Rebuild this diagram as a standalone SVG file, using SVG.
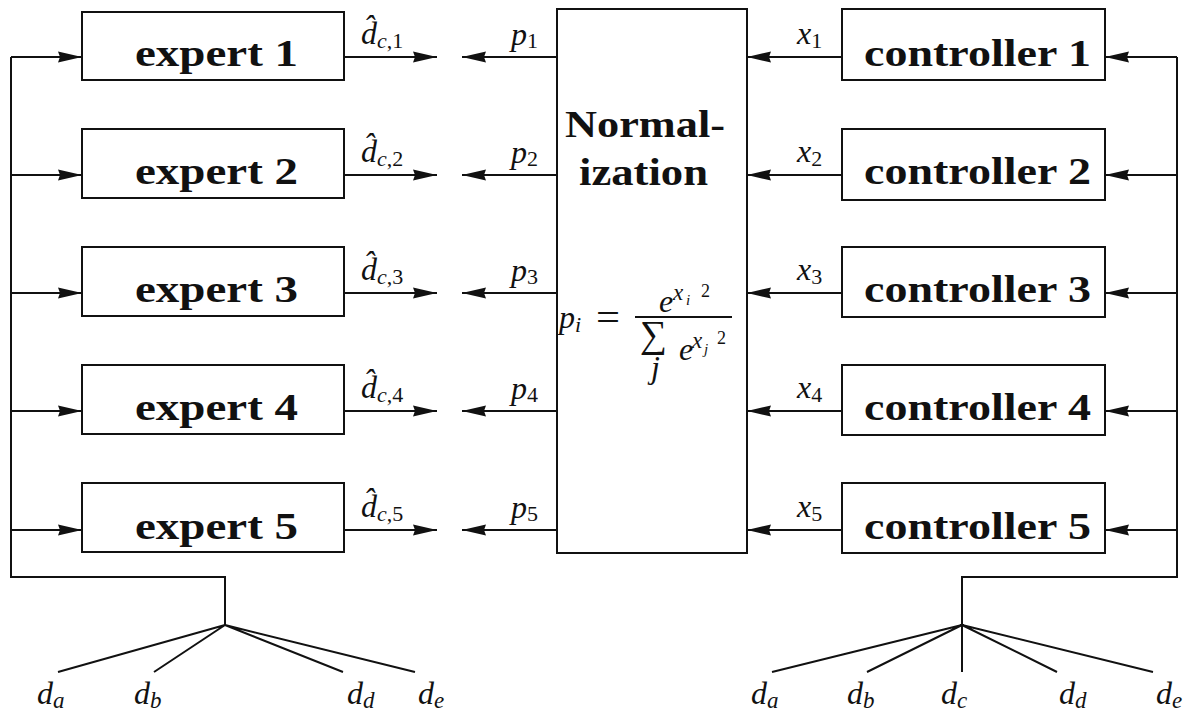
<svg xmlns="http://www.w3.org/2000/svg" width="1186" height="711" viewBox="0 0 1186 711">
  <style>
    .box { fill: #fff; stroke: #111; stroke-width: 2; }
    .wire { fill: none; stroke: #111; stroke-width: 2; }
    .arr { marker-end: url(#ah); }
    .lbl { font-family: "Liberation Serif", serif; font-weight: bold; font-size: 38px; fill: #111; }
    .mi { font-family: "Liberation Serif", serif; font-style: italic; font-size: 32px; fill: #111; }
    .rm { font-family: "Liberation Serif", serif; font-style: normal; fill: #111; }
    .sub { font-size: 22px; }
  </style>
  <defs>
    <marker id="ah" markerUnits="userSpaceOnUse" markerWidth="26" markerHeight="13" refX="24" refY="6" orient="auto">
      <path d="M0,0.5 L24,6 L0,11.5 L2,6 Z" fill="#111"/>
    </marker>
  </defs>
  <rect width="1186" height="711" fill="#fff"/>

  <!-- wiring -->
  <g id="connectors">
    <!-- left distribution bus and fan -->
    <path class="wire" d="M11,57 V577 H225 V625"/>
    <path class="wire" d="M225,625 L58,672 M225,625 L154,672 M225,625 L343,672 M225,625 L415,672"/>
    <!-- right distribution bus and fan -->
    <path class="wire" d="M1177,57 V577 H962 V625"/>
    <path class="wire" d="M962,625 L772,672 M962,625 L867,672 M962,625 V672 M962,625 L1057,672 M962,625 L1153,672"/>

    <!-- row 1 -->
    <path class="wire arr" d="M11,57 H82"/>
    <path class="wire arr" d="M344,57 H437"/>
    <path class="wire arr" d="M557,57 H462"/>
    <path class="wire arr" d="M842,57 H747"/>
    <path class="wire arr" d="M1177,57 H1105"/>
    <!-- row 2 -->
    <path class="wire arr" d="M11,175 H82"/>
    <path class="wire arr" d="M344,175 H437"/>
    <path class="wire arr" d="M557,175 H462"/>
    <path class="wire arr" d="M842,175 H747"/>
    <path class="wire arr" d="M1177,175 H1105"/>
    <!-- row 3 -->
    <path class="wire arr" d="M11,293 H82"/>
    <path class="wire arr" d="M344,293 H437"/>
    <path class="wire arr" d="M557,293 H462"/>
    <path class="wire arr" d="M842,293 H747"/>
    <path class="wire arr" d="M1177,293 H1105"/>
    <!-- row 4 -->
    <path class="wire arr" d="M11,411 H82"/>
    <path class="wire arr" d="M344,411 H437"/>
    <path class="wire arr" d="M557,411 H462"/>
    <path class="wire arr" d="M842,411 H747"/>
    <path class="wire arr" d="M1177,411 H1105"/>
    <!-- row 5 -->
    <path class="wire arr" d="M11,530 H82"/>
    <path class="wire arr" d="M344,530 H437"/>
    <path class="wire arr" d="M557,530 H462"/>
    <path class="wire arr" d="M842,530 H747"/>
    <path class="wire arr" d="M1177,530 H1105"/>
  </g>

  <!-- signal labels -->
  <g id="labels">
    <!-- estimated outputs d-hat -->
    <text class="mi" x="361" y="44" font-size="30">d&#x302;<tspan class="mi sub" dy="4">c</tspan><tspan class="rm sub">,1</tspan></text>
    <text class="mi" x="361" y="162" font-size="30">d&#x302;<tspan class="mi sub" dy="4">c</tspan><tspan class="rm sub">,2</tspan></text>
    <text class="mi" x="361" y="280" font-size="30">d&#x302;<tspan class="mi sub" dy="4">c</tspan><tspan class="rm sub">,3</tspan></text>
    <text class="mi" x="361" y="398" font-size="30">d&#x302;<tspan class="mi sub" dy="4">c</tspan><tspan class="rm sub">,4</tspan></text>
    <text class="mi" x="361" y="517" font-size="30">d&#x302;<tspan class="mi sub" dy="4">c</tspan><tspan class="rm sub">,5</tspan></text>

    <!-- weights -->
    <text class="mi" x="511" y="45">p<tspan class="rm sub" dy="3">1</tspan></text>
    <text class="mi" x="511" y="163">p<tspan class="rm sub" dy="3">2</tspan></text>
    <text class="mi" x="511" y="281">p<tspan class="rm sub" dy="3">3</tspan></text>
    <text class="mi" x="511" y="399">p<tspan class="rm sub" dy="3">4</tspan></text>
    <text class="mi" x="511" y="518">p<tspan class="rm sub" dy="3">5</tspan></text>

    <!-- controller outputs -->
    <text class="mi" x="797" y="44">x<tspan class="rm sub" dy="4">1</tspan></text>
    <text class="mi" x="797" y="162">x<tspan class="rm sub" dy="4">2</tspan></text>
    <text class="mi" x="797" y="280">x<tspan class="rm sub" dy="4">3</tspan></text>
    <text class="mi" x="797" y="398">x<tspan class="rm sub" dy="4">4</tspan></text>
    <text class="mi" x="797" y="517">x<tspan class="rm sub" dy="4">5</tspan></text>

    <!-- input variables, left fan -->
    <text class="mi" x="37" y="704">d<tspan font-size="23" dy="4">a</tspan></text>
    <text class="mi" x="134" y="704">d<tspan font-size="23" dy="4">b</tspan></text>
    <text class="mi" x="347" y="704">d<tspan font-size="23" dy="4">d</tspan></text>
    <text class="mi" x="418" y="704">d<tspan font-size="23" dy="4">e</tspan></text>
    <!-- input variables, right fan -->
    <text class="mi" x="751" y="704">d<tspan font-size="23" dy="4">a</tspan></text>
    <text class="mi" x="847" y="704">d<tspan font-size="23" dy="4">b</tspan></text>
    <text class="mi" x="941" y="704">d<tspan font-size="23" dy="4">c</tspan></text>
    <text class="mi" x="1059" y="704">d<tspan font-size="23" dy="4">d</tspan></text>
    <text class="mi" x="1156" y="704">d<tspan font-size="23" dy="4">e</tspan></text>
  </g>

  <!-- expert networks -->
  <g id="expert1"><rect class="box" x="82" y="12" width="262" height="68"/><text class="lbl" x="135" y="66" textLength="163" lengthAdjust="spacingAndGlyphs">expert 1</text></g>
  <g id="expert2"><rect class="box" x="82" y="129" width="262" height="69"/><text class="lbl" x="135" y="184" textLength="163" lengthAdjust="spacingAndGlyphs">expert 2</text></g>
  <g id="expert3"><rect class="box" x="82" y="247" width="262" height="69"/><text class="lbl" x="135" y="302" textLength="163" lengthAdjust="spacingAndGlyphs">expert 3</text></g>
  <g id="expert4"><rect class="box" x="82" y="365" width="262" height="69"/><text class="lbl" x="135" y="420" textLength="163" lengthAdjust="spacingAndGlyphs">expert 4</text></g>
  <g id="expert5"><rect class="box" x="82" y="483" width="262" height="69"/><text class="lbl" x="135" y="539" textLength="163" lengthAdjust="spacingAndGlyphs">expert 5</text></g>

  <!-- normalization block -->
  <g id="normalization">
    <rect class="box" x="557" y="9" width="190" height="544"/>
    <text class="lbl" x="565" y="137" font-size="37" textLength="160" lengthAdjust="spacingAndGlyphs">Normal-</text>
    <text class="lbl" x="579" y="185" font-size="37" textLength="129" lengthAdjust="spacingAndGlyphs">ization</text>
    <!-- p_i = e^{x_i^2} / sum_j e^{x_j^2} -->
    <text class="mi" x="559" y="328" font-size="32">p<tspan font-size="22" dy="4">i</tspan></text>
    <text class="rm" x="596" y="331" font-size="40" textLength="24" lengthAdjust="spacingAndGlyphs">=</text>
    <line x1="635" y1="317" x2="732" y2="317" stroke="#111" stroke-width="2"/>
    <text class="mi" font-size="28"><tspan x="659" y="312">e</tspan><tspan font-size="23" x="673" y="300">x</tspan><tspan font-size="15" x="686" y="305">i</tspan><tspan class="rm" font-size="18" x="701" y="297">2</tspan></text>
    <text class="rm" x="640" y="347" font-size="38">∑<tspan class="mi" font-size="16" dx="-16" dy="31">j</tspan></text>
    <text class="mi" font-size="28"><tspan x="679" y="360">e</tspan><tspan font-size="23" x="692" y="348">x</tspan><tspan font-size="15" x="704" y="354">j</tspan><tspan class="rm" font-size="18" x="717" y="344">2</tspan></text>
  </g>

  <!-- controller networks -->
  <g id="controller1"><rect class="box" x="842" y="9" width="263" height="71"/><text class="lbl" x="864" y="66" textLength="227" lengthAdjust="spacingAndGlyphs">controller 1</text></g>
  <g id="controller2"><rect class="box" x="842" y="129" width="263" height="71"/><text class="lbl" x="864" y="184" textLength="227" lengthAdjust="spacingAndGlyphs">controller 2</text></g>
  <g id="controller3"><rect class="box" x="842" y="247" width="263" height="70"/><text class="lbl" x="864" y="302" textLength="227" lengthAdjust="spacingAndGlyphs">controller 3</text></g>
  <g id="controller4"><rect class="box" x="842" y="365" width="263" height="70"/><text class="lbl" x="864" y="420" textLength="227" lengthAdjust="spacingAndGlyphs">controller 4</text></g>
  <g id="controller5"><rect class="box" x="842" y="483" width="263" height="70"/><text class="lbl" x="864" y="539" textLength="227" lengthAdjust="spacingAndGlyphs">controller 5</text></g>
</svg>
